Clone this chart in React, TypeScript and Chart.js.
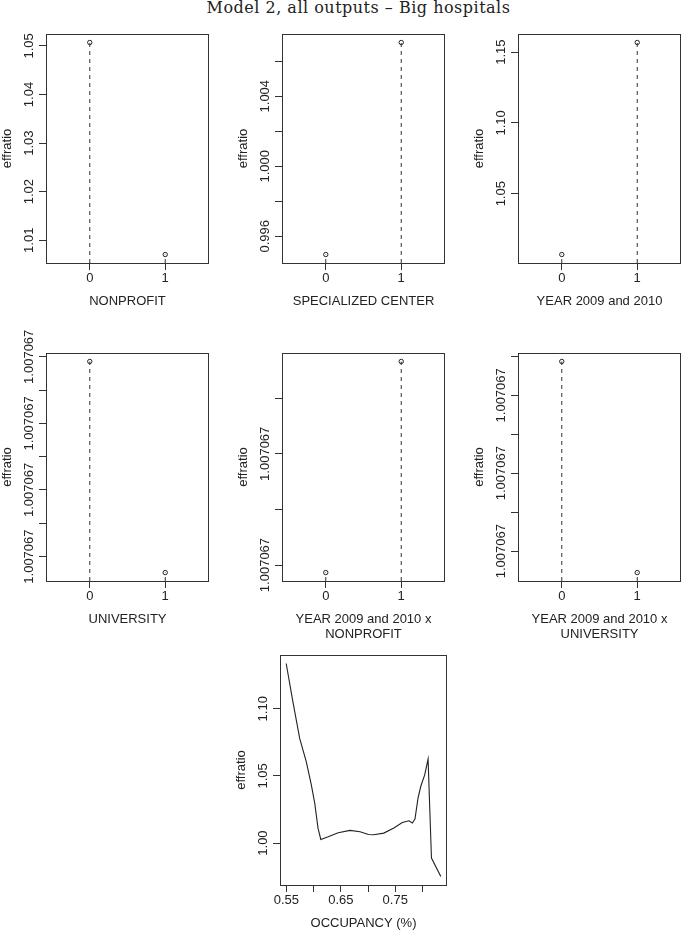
import React, { useEffect, useRef } from 'react';
import { Chart, registerables } from 'chart.js';

Chart.register(...registerables);

const SANS = '"Liberation Sans", Arial, Helvetica, sans-serif';
const SERIF = '"DejaVu Serif", "Liberation Serif", serif';
const INK = '#222';
const LINE = '#333';

// ---------------- data ----------------
const chartTitle = 'Model 2, all outputs – Big hospitals';
const yAxisTitle = 'effratio';

// factor levels used on the x axis of panels 1-6
const levels = [0, 1];
const levelLabels = ['0', '1'];

// Panel 1: NONPROFIT
const nonprofitTitle = ['NONPROFIT'];
const nonprofitValues = [1.0507, 1.007067];
const nonprofitTicks = [1.01, 1.02, 1.03, 1.04, 1.05];
const nonprofitTickLabels = ['1.01', '1.02', '1.03', '1.04', '1.05'];

// Panel 2: SPECIALIZED CENTER
const specializedTitle = ['SPECIALIZED CENTER'];
const specializedValues = [0.99496, 1.007067];
const specializedTicks = [0.996, 0.998, 1.0, 1.002, 1.004, 1.006];
const specializedTickLabels = ['0.996', '', '1.000', '', '1.004', ''];

// Panel 3: YEAR 2009 and 2010
const yearTitle = ['YEAR 2009 and 2010'];
const yearValues = [1.007067, 1.1568];
const yearTicks = [1.05, 1.1, 1.15];
const yearTickLabels = ['1.05', '1.10', '1.15'];

// Panel 4: UNIVERSITY
const universityTitle = ['UNIVERSITY'];
const universityValues = [1.00706700586, 1.00706699952];
const universityTicks = [1.007067, 1.007067001, 1.007067002, 1.007067003, 1.007067004, 1.007067005, 1.007067006];
const universityTickLabels = ['1.007067', '', '1.007067', '', '1.007067', '', '1.007067'];

// Panel 5: YEAR 2009 and 2010 x NONPROFIT
const yearNonprofitTitle = ['YEAR 2009 and 2010 x', 'NONPROFIT'];
const yearNonprofitValues = [1.00706699973, 1.00706700732];
const yearNonprofitTicks = [1.007067, 1.007067002, 1.007067004, 1.007067006];
const yearNonprofitTickLabels = ['1.007067', '', '1.007067', ''];

// Panel 6: YEAR 2009 and 2010 x UNIVERSITY
const yearUniversityTitle = ['YEAR 2009 and 2010 x', 'UNIVERSITY'];
const yearUniversityValues = [1.00706700487, 1.00706699945];
const yearUniversityTicks = [1.007067, 1.007067001, 1.007067002, 1.007067003, 1.007067004, 1.007067005];
const yearUniversityTickLabels = ['1.007067', '', '1.007067', '', '1.007067', ''];

// Panel 7: OCCUPANCY (%)
const occupancyTitle = ['OCCUPANCY (%)'];
const occupancyX = [
  0.5496, 0.562, 0.5744, 0.5866, 0.5959, 0.6021, 0.6082, 0.6132, 0.6267, 0.6452,
  0.6669, 0.6854, 0.7007, 0.7105, 0.729, 0.7475, 0.763, 0.7752, 0.7815, 0.7863,
  0.7919, 0.7969, 0.8043, 0.8104, 0.8166, 0.8338,
];
const occupancyY = [
  1.1337, 1.1052, 1.0779, 1.0605, 1.0432, 1.0295, 1.0109, 1.0027, 1.0047, 1.0077,
  1.0094, 1.0084, 1.0064, 1.0062, 1.0074, 1.0112, 1.0153, 1.0166, 1.0149, 1.0179,
  1.0335, 1.0421, 1.0509, 1.0625, 0.9888, 0.9751,
];
const occupancyXTicks = [0.55, 0.6, 0.65, 0.7, 0.75, 0.8];
const occupancyXTickLabels = ['0.55', '', '0.65', '', '0.75', ''];
const occupancyYTicks = [1.0, 1.05, 1.1];
const occupancyYTickLabels = ['1.00', '1.05', '1.10'];

// ---------------- layout ----------------
const Y_AXIS_W = 46;
const X_AXIS_H = 80;
const PAD_RIGHT = 2;
const TICK_LEN = 7;
const FONT_SIZE = 13;
const X_TITLE_LH = 15;
const X_TITLE_FIRST = 38;

type PanelSpec = {
  kind: 'factor' | 'curve';
  xs: number[];
  ys: number[];
  xRange: [number, number];
  xTicks: number[];
  xTickLabels: string[];
  yTicks: number[];
  yTickLabels: string[];
  xTitle: string[];
  left: number;
  top: number;
  width: number;
  height: number;
  padTop: number;
};

const factorRange: [number, number] = [-0.5, levels.length - 0.5];

const COLS = [46, 282, 518];
const ROWS = [
  { top: 34, height: 229, padTop: 10 },
  { top: 353, height: 228, padTop: 40 },
  { top: 655, height: 230, padTop: 30 },
];

function factorPanel(col: number, row: number, values: number[], yTicks: number[], yTickLabels: string[], title: string[]): PanelSpec {
  return {
    kind: 'factor',
    xs: levels,
    ys: values,
    xRange: factorRange,
    xTicks: levels,
    xTickLabels: levelLabels,
    yTicks,
    yTickLabels,
    xTitle: title,
    left: COLS[col],
    top: ROWS[row].top,
    width: 166,
    height: ROWS[row].height,
    padTop: ROWS[row].padTop,
  };
}

const panels: PanelSpec[] = [
  factorPanel(0, 0, nonprofitValues, nonprofitTicks, nonprofitTickLabels, nonprofitTitle),
  factorPanel(1, 0, specializedValues, specializedTicks, specializedTickLabels, specializedTitle),
  factorPanel(2, 0, yearValues, yearTicks, yearTickLabels, yearTitle),
  factorPanel(0, 1, universityValues, universityTicks, universityTickLabels, universityTitle),
  factorPanel(1, 1, yearNonprofitValues, yearNonprofitTicks, yearNonprofitTickLabels, yearNonprofitTitle),
  factorPanel(2, 1, yearUniversityValues, yearUniversityTicks, yearUniversityTickLabels, yearUniversityTitle),
  {
    kind: 'curve',
    xs: occupancyX,
    ys: occupancyY,
    xRange: [Math.min(...occupancyX), Math.max(...occupancyX)],
    xTicks: occupancyXTicks,
    xTickLabels: occupancyXTickLabels,
    yTicks: occupancyYTicks,
    yTickLabels: occupancyYTickLabels,
    xTitle: occupancyTitle,
    left: 280,
    top: ROWS[2].top,
    width: 167,
    height: ROWS[2].height,
    padTop: ROWS[2].padTop,
  },
];

// R-style 4% axis extension
function extend(lo: number, hi: number): [number, number] {
  const d = (hi - lo) * 0.04;
  return [lo - d, hi + d];
}

function textWidth(labels: string[]): number {
  const ctx = document.createElement('canvas').getContext('2d')!;
  ctx.font = `${FONT_SIZE}px ${SANS}`;
  return Math.max(...labels.map((s) => ctx.measureText(s).width));
}

const boxPlugin = {
  id: 'rbox',
  afterDraw(chart: any) {
    const { ctx, chartArea: a } = chart;
    ctx.save();
    ctx.strokeStyle = LINE;
    ctx.lineWidth = 1;
    const l = Math.round(a.left) + 0.5;
    const t = Math.round(a.top) + 0.5;
    const r = Math.round(a.right) - 0.5;
    const b = Math.round(a.bottom) + 0.5;
    ctx.strokeRect(l, t, r - l, b - t);
    ctx.restore();
  },
};

function buildConfig(spec: PanelSpec): any {
  const [xMin, xMax] = extend(spec.xRange[0], spec.xRange[1]);
  const [yMin, yMax] = extend(Math.min(...spec.ys), Math.max(...spec.ys));
  const datasets: any[] = [];
  if (spec.kind === 'factor') {
    spec.xs.forEach((x, i) => {
      datasets.push({
        data: [
          { x, y: yMin },
          { x, y: spec.ys[i] },
        ],
        showLine: true,
        borderColor: LINE,
        borderWidth: 1,
        borderDash: [4, 4],
        pointRadius: 0,
      });
    });
    datasets.push({
      data: spec.xs.map((x, i) => ({ x, y: spec.ys[i] })),
      showLine: false,
      pointRadius: 2.2,
      pointStyle: 'circle',
      pointBorderColor: INK,
      pointBackgroundColor: '#ffffff',
      pointBorderWidth: 1,
    });
  } else {
    datasets.push({
      data: spec.xs.map((x, i) => ({ x, y: spec.ys[i] })),
      showLine: true,
      borderColor: INK,
      borderWidth: 1.1,
      pointRadius: 0,
      tension: 0,
    });
  }

  const n = spec.xTitle.length;
  const lastCenter = X_TITLE_FIRST + X_TITLE_LH * (n - 1);
  const titlePadBottom = X_AXIS_H - lastCenter - X_TITLE_LH / 2;
  const widest = textWidth(spec.yTickLabels);
  const yLabelPad = 17 - TICK_LEN - widest / 2;

  const grid = {
    display: true,
    drawOnChartArea: false,
    drawTicks: true,
    tickLength: TICK_LEN,
    color: LINE,
    lineWidth: 1,
  };
  const font = { family: SANS, size: FONT_SIZE };

  return {
    type: 'scatter',
    data: { datasets },
    plugins: [boxPlugin],
    options: {
      responsive: false,
      maintainAspectRatio: false,
      animation: false,
      events: [],
      layout: { padding: { top: spec.padTop, left: 0, right: PAD_RIGHT, bottom: 0 } },
      plugins: { legend: { display: false }, tooltip: { enabled: false }, title: { display: false } },
      scales: {
        x: {
          type: 'linear',
          min: xMin,
          max: xMax,
          afterBuildTicks: (s: any) => {
            s.ticks = spec.xTicks.map((v) => ({ value: v }));
          },
          afterFit: (s: any) => {
            s.height = X_AXIS_H;
          },
          ticks: {
            autoSkip: false,
            minRotation: 0,
            maxRotation: 0,
            padding: 1,
            color: INK,
            font,
            callback: (_v: any, i: number) => spec.xTickLabels[i],
          },
          grid,
          border: { display: false },
          title: {
            display: true,
            text: spec.xTitle,
            color: INK,
            font: { family: SANS, size: FONT_SIZE, lineHeight: X_TITLE_LH / FONT_SIZE },
            padding: { top: 0, bottom: titlePadBottom },
          },
        },
        y: {
          type: 'linear',
          min: yMin,
          max: yMax,
          afterBuildTicks: (s: any) => {
            s.ticks = spec.yTicks.map((v) => ({ value: v }));
          },
          afterFit: (s: any) => {
            s.width = Y_AXIS_W;
          },
          ticks: {
            autoSkip: false,
            minRotation: 90,
            maxRotation: 90,
            crossAlign: 'center',
            padding: yLabelPad,
            color: INK,
            font,
            callback: (_v: any, i: number) => spec.yTickLabels[i],
          },
          grid,
          border: { display: false },
          title: {
            display: true,
            text: yAxisTitle,
            color: INK,
            font,
            padding: { top: 0, bottom: 0 },
          },
        },
      },
    },
  };
}

function Panel({ spec }: { spec: PanelSpec }) {
  const ref = useRef<HTMLCanvasElement>(null);
  useEffect(() => {
    if (!ref.current) return;
    const chart = new Chart(ref.current, buildConfig(spec));
    return () => chart.destroy();
  }, [spec]);
  const x = spec.left - Y_AXIS_W;
  const y = spec.top - spec.padTop;
  const w = Y_AXIS_W + spec.width + PAD_RIGHT;
  const h = spec.padTop + spec.height + X_AXIS_H;
  return (
    <canvas
      ref={ref}
      width={w}
      height={h}
      style={{ position: 'absolute', left: x, top: y, width: w, height: h }}
    />
  );
}

export default function App() {
  return (
    <div
      style={{
        position: 'absolute',
        left: 0,
        top: 0,
        width: 685,
        height: 931,
        overflow: 'hidden',
        background: '#ffffff',
      }}
    >
      <div
        style={{
          position: 'absolute',
          left: 16,
          top: -1,
          width: 685,
          textAlign: 'center',
          fontFamily: SERIF,
          fontSize: 16,
          lineHeight: '18px',
          letterSpacing: '0.5px',
          color: INK,
          whiteSpace: 'nowrap',
        }}
      >
        {chartTitle}
      </div>
      {panels.map((p, i) => (
        <Panel key={i} spec={p} />
      ))}
    </div>
  );
}
